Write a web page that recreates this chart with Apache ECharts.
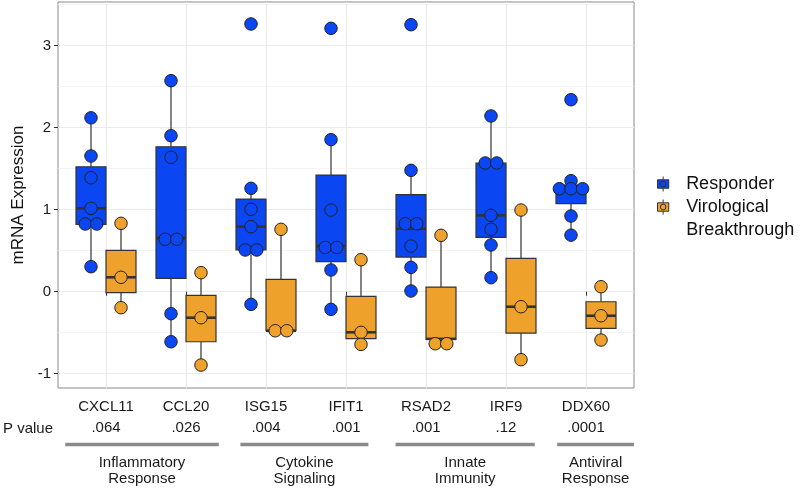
<!DOCTYPE html>
<html>
<head>
<meta charset="utf-8">
<script src="https://cdn.jsdelivr.net/npm/echarts@6/dist/echarts.min.js"></script>
<style>
  html, body { margin: 0; padding: 0; background: #ffffff; }
  #chart { width: 800px; height: 490px; }
</style>
</head>
<body>
<div id="chart"></div>
<script>
// ---------------- data ----------------
const genes = ['CXCL11', 'CCL20', 'ISG15', 'IFIT1', 'RSAD2', 'IRF9', 'DDX60'];
const pValues = ['.064', '.026', '.004', '.001', '.001', '.12', '.0001'];
const seriesNames = ['Responder', 'Virological Breakthrough'];

// box statistics per gene: [lower whisker, Q1, median, Q3, upper whisker]
const responderBoxes = [
  [0.305, 0.82, 1.017, 1.524, 2.12],
  [-0.61, 0.163, 0.655, 1.768, 2.573],
  [-0.154, 0.509, 0.793, 1.13, 1.261],
  [-0.215, 0.366, 0.557, 1.423, 1.854],
  [0.009, 0.423, 0.768, 1.183, 1.48],
  [0.171, 0.663, 0.932, 1.57, 2.143],
  [0.69, 1.075, 1.256, 1.30, 1.354]
];
const breakthroughBoxes = [
  [-0.195, -0.012, 0.176, 0.505, 0.834],
  [-0.894, -0.61, -0.317, -0.044, 0.232],
  [-0.476, -0.476, -0.476, 0.151, 0.761],
  [-0.642, -0.573, -0.495, -0.056, 0.39],
  [-0.634, -0.58, -0.575, 0.057, 0.688],
  [-0.829, -0.504, -0.183, 0.407, 0.996],
  [-0.589, -0.446, -0.293, -0.122, 0.061]
];

// individual measurements per gene
const responderPoints = [
  [2.12, 1.655, 1.39, 1.017, 0.826, 0.826, 0.305],
  [2.573, 1.902, 1.639, 0.64, 0.64, -0.268, -0.61],
  [3.265, 1.261, 1.005, 0.793, 0.509, 0.509, -0.154],
  [3.212, 1.854, 0.996, 0.54, 0.54, 0.265, -0.215],
  [3.256, 1.48, 0.829, 0.829, 0.557, 0.297, 0.009],
  [2.143, 1.57, 1.57, 0.932, 0.761, 0.57, 0.171],
  [2.341, 1.354, 1.256, 1.256, 1.256, 0.923, 0.69]
];
const breakthroughPoints = [
  [0.834, 0.176, -0.195],
  [0.232, -0.317, -0.894],
  [0.761, -0.476, -0.476],
  [0.39, -0.495, -0.642],
  [0.688, -0.634, -0.634],
  [0.996, -0.183, -0.829],
  [0.061, -0.293, -0.589]
];

// y-axis ticks
const yMajorTicks = [-1, 0, 1, 2, 3];
const yMinorTicks = [-0.5, 0.5, 1.5, 2.5, 3.5];

// gene groups (label and span along the gene axis, in gene-position units)
const groupNames = ['Inflammatory\nResponse', 'Cytokine\nSignaling', 'Innate\nImmunity', 'Antiviral\nResponse'];
const groupSpans = [[0.49, 2.41], [2.68, 4.28], [4.62, 6.36], [6.64, 7.6]];

// ---------------- styling constants ----------------
const FONT = '"Liberation Sans", Arial, Helvetica, sans-serif';
const BLUE = '#0a46f2';
const ORANGE = '#eea22c';
const STROKE = '#333333';
const BOX_HALF = 0.1875;
const DODGE = 0.1875;
const SPREAD_STEP = 0.145;

// ---------------- helpers ----------------
const geneTicks = genes.map((g, i) => i + 1);

function boxData(boxes) {
  return boxes.map((b, i) => [i + 1].concat(b));
}

function spreadOffsets(vals) {
  const offs = vals.map(() => 0);
  const used = vals.map(() => false);
  for (let i = 0; i < vals.length; i++) {
    if (used[i]) continue;
    const cluster = [];
    for (let j = i; j < vals.length; j++) {
      if (!used[j] && Math.abs(vals[j] - vals[i]) < 0.02) { cluster.push(j); used[j] = true; }
    }
    const n = cluster.length;
    cluster.forEach((j, k) => { offs[j] = (k - (n - 1) / 2) * SPREAD_STEP; });
  }
  return offs;
}

function pointData(points, dodge) {
  const out = [];
  points.forEach((vals, i) => {
    const offs = spreadOffsets(vals);
    vals.forEach((v, k) => out.push([i + 1 + dodge + offs[k], v]));
  });
  return out;
}

function boxRenderer(offset, fill) {
  return function (params, api) {
    const x = api.value(0) + offset;
    const lo = api.value(1), q1 = api.value(2), med = api.value(3), q3 = api.value(4), hi = api.value(5);
    const pTL = api.coord([x - BOX_HALF, q3]);
    const pBR = api.coord([x + BOX_HALF, q1]);
    const pLo = api.coord([x, lo]);
    const pHi = api.coord([x, hi]);
    const pMed = api.coord([x, med]);
    const xc = pLo[0];
    return {
      type: 'group',
      children: [
        { type: 'line', shape: { x1: xc, y1: pHi[1], x2: xc, y2: pTL[1] }, style: { stroke: STROKE, lineWidth: 1.2 } },
        { type: 'line', shape: { x1: xc, y1: pBR[1], x2: xc, y2: pLo[1] }, style: { stroke: STROKE, lineWidth: 1.2 } },
        { type: 'rect', shape: { x: pTL[0], y: pTL[1], width: pBR[0] - pTL[0], height: Math.max(pBR[1] - pTL[1], 0.5) },
          style: { fill: fill, stroke: STROKE, lineWidth: 1.2 } },
        { type: 'line', shape: { x1: pTL[0], y1: pMed[1], x2: pBR[0], y2: pMed[1] }, style: { stroke: STROKE, lineWidth: 2.6 } }
      ]
    };
  };
}

function groupRenderer(params, api) {
  const cs = params.coordSys;
  const yLine = cs.y + cs.height + 56.5;
  const x1 = api.coord([api.value(0), 0])[0];
  const x2 = api.coord([api.value(1), 0])[0];
  const idx = api.value(3);
  return {
    type: 'group',
    children: [
      { type: 'line', shape: { x1: x1, y1: yLine, x2: x2, y2: yLine }, style: { stroke: '#8a8a8a', lineWidth: 3.6 } },
      { type: 'text', x: (x1 + x2) / 2, y: yLine + 26.5,
        style: { text: groupNames[idx], fill: '#1a1a1a', font: '15px ' + FONT, align: 'center', verticalAlign: 'middle', lineHeight: 16.5 } }
    ]
  };
}

// ---------------- chart ----------------
const chart = echarts.init(document.getElementById('chart'), null, { renderer: 'canvas' });

const option = {
  animation: false,
  backgroundColor: '#ffffff',
  textStyle: { fontFamily: FONT },
  grid: { left: 58, top: 2, width: 576, height: 386, show: true, borderColor: '#8a8a8a', borderWidth: 1, backgroundColor: 'transparent' },
  legend: {
    orient: 'vertical',
    left: 657,
    top: 172.5,
    padding: 0,
    itemGap: -23,
    itemWidth: 12,
    itemHeight: 15,
    icon: 'path://M0,3.5H12V12.5H0Z M6,0V3.5 M6,12.5V16 M9,8A3,3,0,1,1,3,8A3,3,0,1,1,9,8Z',
    itemStyle: { borderColor: STROKE, borderWidth: 1 },
    formatter: name => name === seriesNames[1] ? ' \n' + name.replace(' ', '\n') : name,
    textStyle: { fontSize: 18, color: '#111', fontFamily: FONT, lineHeight: 23, padding: [0, 0, 0, 12] },
    data: seriesNames
  },
  graphic: [
    { type: 'text', left: 3, top: 421, style: { text: 'P value', fill: '#1a1a1a', font: '15px ' + FONT } }
  ],
  xAxis: {
    type: 'value',
    min: 0.4,
    max: 7.6,
    axisLine: { show: false },
    axisTick: { show: true, customValues: geneTicks, length: 4, lineStyle: { color: STROKE } },
    splitLine: { show: true, customValues: geneTicks, lineStyle: { color: '#ebebeb', width: 1.1 } },
    axisLabel: {
      customValues: geneTicks,
      margin: 8,
      formatter: v => '{g|' + genes[Math.round(v) - 1] + '}\n{p|' + pValues[Math.round(v) - 1] + '}',
      rich: {
        g: { fontSize: 15, lineHeight: 21, color: '#1a1a1a', fontFamily: FONT },
        p: { fontSize: 15, lineHeight: 22, color: '#1a1a1a', fontFamily: FONT }
      }
    }
  },
  yAxis: [
    {
      type: 'value',
      min: -1.174,
      max: 3.533,
      name: 'mRNA Expression',
      nameLocation: 'middle',
      nameGap: 31,
      nameTextStyle: { fontSize: 17, color: '#111', fontFamily: FONT },
      axisLine: { show: false },
      axisTick: { show: true, customValues: yMajorTicks, length: 4, lineStyle: { color: STROKE } },
      axisLabel: { customValues: yMajorTicks, fontSize: 15, color: '#1a1a1a', margin: 7, fontFamily: FONT },
      splitLine: { show: true, customValues: yMajorTicks, lineStyle: { color: '#ebebeb', width: 1.1 } }
    },
    {
      type: 'value',
      min: -1.174,
      max: 3.533,
      position: 'left',
      axisLine: { show: false },
      axisTick: { show: false, customValues: yMinorTicks },
      axisLabel: { show: false, customValues: yMinorTicks },
      splitLine: { show: true, customValues: yMinorTicks, lineStyle: { color: '#f1f1f1', width: 0.8 } }
    }
  ],
  series: [
    {
      name: seriesNames[0], type: 'custom', z: 2,
      itemStyle: { color: BLUE, borderColor: STROKE },
      renderItem: boxRenderer(-DODGE, BLUE),
      encode: { x: 0, y: [1, 2, 3, 4, 5] },
      data: boxData(responderBoxes)
    },
    {
      name: seriesNames[1], type: 'custom', z: 2,
      itemStyle: { color: ORANGE, borderColor: STROKE },
      renderItem: boxRenderer(DODGE, ORANGE),
      encode: { x: 0, y: [1, 2, 3, 4, 5] },
      data: boxData(breakthroughBoxes)
    },
    {
      name: seriesNames[0], type: 'scatter', z: 3, symbol: 'circle', symbolSize: 12.5,
      itemStyle: { color: BLUE, borderColor: '#222', borderWidth: 1, opacity: 1 },
      data: pointData(responderPoints, -DODGE)
    },
    {
      name: seriesNames[1], type: 'scatter', z: 3, symbol: 'circle', symbolSize: 12.5,
      itemStyle: { color: ORANGE, borderColor: '#222', borderWidth: 1, opacity: 1 },
      data: pointData(breakthroughPoints, DODGE)
    },
    {
      type: 'custom', z: 1, silent: true, clip: false,
      renderItem: groupRenderer,
      encode: { x: [0, 1], y: 2 },
      data: groupSpans.map((s, i) => [s[0], s[1], 0, i])
    }
  ]
};

chart.setOption(option);
</script>
</body>
</html>
